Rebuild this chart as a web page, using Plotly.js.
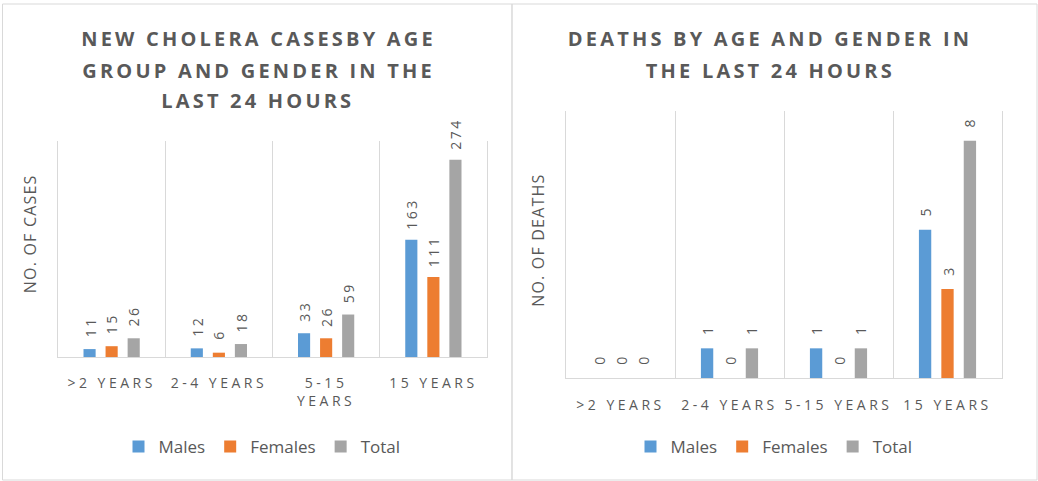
<!DOCTYPE html>
<html>
<head>
<meta charset="utf-8">
<script src="https://cdn.plot.ly/plotly-3.0.1.min.js"></script>
<style>
  html, body { margin: 0; padding: 0; background: #fff; }
  #chart { width: 1038px; height: 481px; }
  .xtick text, .x2tick text { letter-spacing: 3.5px; }
</style>
</head>
<body>
<div id="chart"></div>
<script>
// ---------- data ----------
const categories = [">2 YEARS", "2-4 YEARS", "5-15 YEARS", "15 YEARS"];
const casesTickLabels = [">2 YEARS", "2-4 YEARS", "5-15<br>YEARS", "15 YEARS"];
const deathsTickLabels = [">2 YEARS", "2-4 YEARS", "5-15 YEARS", "15 YEARS"];
const seriesNames = ["Males", "Females", "Total"];
const casesMales = [11, 12, 33, 163];
const casesFemales = [15, 6, 26, 111];
const casesTotal = [26, 18, 59, 274];
const deathsMales = [0, 1, 1, 5];
const deathsFemales = [0, 0, 0, 3];
const deathsTotal = [0, 1, 1, 8];
const casesTitleLines = ["NEW CHOLERA CASESBY AGE", "GROUP AND GENDER IN THE", "LAST 24 HOURS"];
const deathsTitleLines = ["DEATHS BY AGE AND GENDER IN", "THE LAST 24 HOURS"];
const casesAxisTitle = "NO. OF CASES";
const deathsAxisTitle = "NO. OF DEATHS";

// ---------- styles ----------
const colors = ["#5B9BD5", "#ED7D31", "#A5A5A5"];
const textColor = "#595959";
const gridColor = "#D9D9D9";
const W = 1038, H = 481;
const px = v => v / W;
const py = v => 1 - v / H;

const casesSeries = [casesMales, casesFemales, casesTotal];
const deathsSeries = [deathsMales, deathsFemales, deathsTotal];

const traces = [];
seriesNames.forEach((name, i) => {
  traces.push({
    type: "bar", name: name, x: categories, y: casesSeries[i],
    xaxis: "x", yaxis: "y", legend: "legend",
    marker: { color: colors[i], line: { width: 0 } },
    hoverinfo: "none"
  });
});
seriesNames.forEach((name, i) => {
  traces.push({
    type: "bar", name: name, x: categories, y: deathsSeries[i],
    xaxis: "x2", yaxis: "y2", legend: "legend2",
    marker: { color: colors[i], line: { width: 0 } },
    hoverinfo: "none"
  });
});

const annotations = [];
const titleIdx = [], labelIdx = [], axTitleIdx = [];
// titles
const titleLineY = [38, 70, 100];
casesTitleLines.forEach((t, k) => {
  titleIdx.push(annotations.length);
  annotations.push({ text: t, xref: "paper", yref: "paper", x: px(258), y: py(titleLineY[k]),
    xanchor: "center", yanchor: "middle", showarrow: false,
    font: { family: "Open Sans", size: 20, weight: 700, color: textColor } });
});
deathsTitleLines.forEach((t, k) => {
  titleIdx.push(annotations.length);
  annotations.push({ text: t, xref: "paper", yref: "paper", x: px(770), y: py(titleLineY[k]),
    xanchor: "center", yanchor: "middle", showarrow: false,
    font: { family: "Open Sans", size: 20, weight: 700, color: textColor } });
});
// axis titles
axTitleIdx.push(annotations.length);
annotations.push({ text: casesAxisTitle, xref: "paper", yref: "paper", x: px(30), y: py(234),
  xanchor: "center", yanchor: "middle", textangle: -90, showarrow: false,
  font: { family: "Open Sans", size: 16, color: textColor } });
axTitleIdx.push(annotations.length);
annotations.push({ text: deathsAxisTitle, xref: "paper", yref: "paper", x: px(538), y: py(240),
  xanchor: "center", yanchor: "middle", textangle: -90, showarrow: false,
  font: { family: "Open Sans", size: 16, color: textColor } });
// data labels
const offsets = [-22, 0, 22];
function addLabels(series, xr, yr) {
  series.forEach((vals, i) => {
    vals.forEach((v, j) => {
      labelIdx.push(annotations.length);
      annotations.push({ text: String(v), xref: xr, yref: yr, x: categories[j], y: v,
        xshift: offsets[i], yshift: 12, xanchor: "center", yanchor: "bottom",
        textangle: -90, showarrow: false,
        font: { family: "Open Sans", size: 14, color: textColor } });
    });
  });
}
addLabels(casesSeries, "x", "y");
addLabels(deathsSeries, "x2", "y2");

// letter spacing css per annotation group
let css = "";
titleIdx.forEach(i => css += `.annotation[data-index="${i}"] text{letter-spacing:3.2px;}\n`);
labelIdx.forEach(i => css += `.annotation[data-index="${i}"] text{letter-spacing:2.5px;}\n`);
axTitleIdx.forEach(i => css += `.annotation[data-index="${i}"] text{letter-spacing:1.2px;}\n`);
const st = document.createElement("style");
st.textContent = css;
document.head.appendChild(st);

const xCommon = {
  type: "category", range: [-0.5, 3.5], tickson: "boundaries",
  showgrid: true, gridcolor: gridColor, gridwidth: 1,
  showline: true, linecolor: gridColor, linewidth: 1,
  ticks: "", zeroline: false, fixedrange: true,
  tickfont: { family: "Open Sans", size: 14, color: textColor }
};
const yCommon = {
  showgrid: false, zeroline: false, showline: true, mirror: true,
  linecolor: gridColor, linewidth: 1, showticklabels: false,
  ticks: "", fixedrange: true
};

const layout = {
  width: W, height: H,
  margin: { l: 0, r: 0, t: 0, b: 0 },
  paper_bgcolor: "#fff", plot_bgcolor: "#fff",
  barmode: "group", bargap: 0.383, bargroupgap: 0.45,
  xaxis: Object.assign({}, xCommon, { domain: [px(58), px(487)], anchor: "y",
    tickmode: "array", tickvals: categories, ticktext: casesTickLabels, ticklabelstandoff: 13 }),
  yaxis: Object.assign({}, yCommon, { domain: [py(357), py(141)], range: [0, 300], anchor: "x" }),
  xaxis2: Object.assign({}, xCommon, { domain: [px(566), px(1002)], anchor: "y2",
    tickmode: "array", tickvals: categories, ticktext: deathsTickLabels, ticklabelstandoff: 14 }),
  yaxis2: Object.assign({}, yCommon, { domain: [py(378), py(111)], range: [0, 9], anchor: "x2" }),
  legend: { orientation: "h", x: px(262), y: py(447), xanchor: "center", yanchor: "middle",
    font: { family: "Open Sans", size: 17, color: textColor }, bgcolor: "rgba(0,0,0,0)" },
  legend2: { orientation: "h", x: px(774), y: py(447), xanchor: "center", yanchor: "middle",
    font: { family: "Open Sans", size: 17, color: textColor }, bgcolor: "rgba(0,0,0,0)" },
  annotations: annotations,
  shapes: [
    { type: "rect", xref: "paper", yref: "paper", x0: px(2.5), x1: px(512), y0: py(480), y1: py(4),
      line: { color: gridColor, width: 1 }, layer: "below" },
    { type: "rect", xref: "paper", yref: "paper", x0: px(512), x1: px(1037), y0: py(480), y1: py(4),
      line: { color: gridColor, width: 1 }, layer: "below" }
  ],
  showlegend: true
};

Plotly.newPlot("chart", traces, layout, { staticPlot: true, displayModeBar: false });
</script>
</body>
</html>
